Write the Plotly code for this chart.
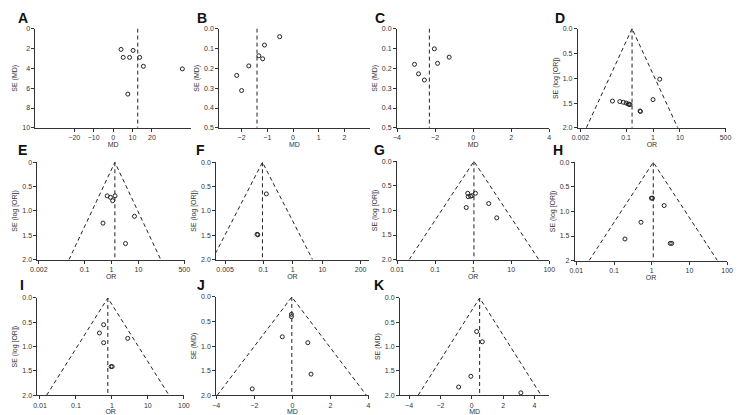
import math
import plotly.graph_objects as go

W, H = 738, 415

# ---------------- data ----------------
A_md = [4.1, 5.2, 8.5, 10.3, 13.7, 15.6, 35.7, 7.6]
A_se = [2.1, 2.9, 2.9, 2.2, 2.9, 3.8, 4.06, 6.6]
A_pool = 12.7

B_md = [-0.52, -1.11, -1.33, -1.18, -1.72, -2.19, -2.0]
B_se = [0.041, 0.083, 0.137, 0.152, 0.188, 0.236, 0.312]
B_pool = -1.40

C_md = [-2.04, -1.26, -3.08, -1.87, -2.87, -2.56]
C_se = [0.102, 0.144, 0.18, 0.175, 0.228, 0.259]
C_pool = -2.3

D_or = [0.031, 0.058, 0.079, 0.10, 0.12, 0.13, 0.14, 0.33, 0.34, 1.0, 1.78]
D_se = [1.46, 1.47, 1.485, 1.50, 1.52, 1.525, 1.53, 1.66, 1.67, 1.43, 1.02]
D_pool = 0.166

E_or = [0.69, 0.91, 1.10, 1.35, 7.1, 0.48, 3.3]
E_se = [0.69, 0.72, 0.79, 0.69, 1.11, 1.25, 1.67]
E_pool = 1.33

F_or = [0.126, 0.061, 0.065]
F_se = [0.65, 1.48, 1.49]
F_pool = 0.093

G_or = [0.72, 1.15, 0.74, 0.85, 0.93, 2.57, 0.66, 4.17]
G_se = [0.65, 0.65, 0.72, 0.71, 0.70, 0.86, 0.94, 1.15]
G_pool = 1.05

H_or = [0.98, 1.05, 2.14, 0.52, 0.195, 3.1, 3.4]
H_se = [0.73, 0.73, 0.88, 1.22, 1.56, 1.65, 1.65]
H_pool = 1.10

I_or = [0.59, 0.45, 0.59, 2.75, 0.95, 1.02]
I_se = [0.55, 0.72, 0.92, 0.83, 1.41, 1.41]
I_pool = 0.77

J_md = [-0.05, -0.05, -0.53, 0.81, 0.98, -2.11]
J_se = [0.354, 0.40, 0.81, 0.93, 1.57, 1.87]
J_pool = -0.03

K_md = [0.31, 0.67, -0.06, -0.84, 3.13]
K_se = [0.69, 0.90, 1.61, 1.83, 1.95]
K_pool = 0.5

# tick labels
A_xt = [-20, -10, 0, 10, 20]
A_xtt = ["\u221220", "\u221210", "0", "10", "20"]
A_yt = [0, 2, 4, 6, 8, 10]
BC_yt = [0.0, 0.1, 0.2, 0.3, 0.4, 0.5]
BC_ytt = ["0.0", "0.1", "0.2", "0.3", "0.4", "0.5"]
B_xt = [-2, -1, 0, 1, 2]
B_xtt = ["\u22122", "\u22121", "0", "1", "2"]
C_xt = [-4, -2, 0, 2, 4]
MD4_xtt = ["\u22124", "\u22122", "0", "2", "4"]
OR_yt = [0.0, 0.5, 1.0, 1.5, 2.0]
OR_ytt = ["0.0", "0.5", "1.0", "1.5", "2.0"]
DE_xt = [0.002, 0.1, 1, 10, 500]
DE_xtt = ["0.002", "0.1", "1", "10", "500"]
F_xt = [0.005, 0.1, 1, 10, 200]
F_xtt = ["0.005", "0.1", "1", "10", "200"]
GHI_xt = [0.01, 0.1, 1, 10, 100]
GHI_xtt = ["0.01", "0.1", "1", "10", "100"]
JK_xt = [-4, -2, 0, 2, 4]

FONT = "Liberation Sans, Arial, sans-serif"
INK = "#333"
fig = go.Figure()

panels = [
    ("A", A_md, A_se, A_pool, "linear", [-40, 40], [10, 0], A_xt, A_xtt,
     A_yt, [str(v) for v in A_yt], "MD", "SE (MD)", False, (29, 187, 25, 126), (9, 14)),
    ("B", B_md, B_se, B_pool, "linear", [-2.87, 2.97], [0.5, 0], B_xt, B_xtt,
     BC_yt, BC_ytt, "MD", "SE (MD)", False, (216, 369, 25, 126), (191, 14)),
    ("C", C_md, C_se, C_pool, "linear", [-4, 4], [0.5, 0], C_xt, MD4_xtt,
     BC_yt, BC_ytt, "MD", "SE (MD)", False, (397, 552, 25, 126), (373, 14)),
    ("D", D_or, D_se, D_pool, "log", [-2.8, 2.72], [2, 0], DE_xt, DE_xtt,
     OR_yt, OR_ytt, "OR", "SE (log [OR])", True, (581, 732, 25, 126), (556, 14)),
    ("E", E_or, E_se, E_pool, "log", [-2.75, 2.72], [2, 0], DE_xt, DE_xtt,
     OR_yt, ["0", "0.5", "1.0", "1.5", "2.0"], "OR", "SE (log [OR])", True, (31, 181, 161, 260), (9, 149)),
    ("F", F_or, F_se, F_pool, "log", [-2.6, 2.57], [2, 0], F_xt, F_xtt,
     OR_yt, OR_ytt, "OR", "SE (log [OR])", True, (213, 368, 161, 260), (190, 149)),
    ("G", G_or, G_se, G_pool, "log", [-2, 2], [2, 0], GHI_xt, GHI_xtt,
     OR_yt, OR_ytt, "OR", "SE (log [OR])", True, (397, 552, 160, 260), (372, 149)),
    ("H", H_or, H_se, H_pool, "log", [-2.04, 2], [2, 0], GHI_xt, GHI_xtt,
     OR_yt, ["0.0", "0.5", "1.0", "1.5", "2"], "OR", "SE (log [OR])", True, (578, 733, 161, 261), (554, 149)),
    ("I", I_or, I_se, I_pool, "log", [-2.07, 2], [2, 0], GHI_xt, GHI_xtt,
     OR_yt, OR_ytt, "OR", "SE (log [OR])", True, (31, 180, 299, 398), (11, 286)),
    ("J", J_md, J_se, J_pool, "linear", [-4, 4], [2, 0], JK_xt, MD4_xtt,
     OR_yt, OR_ytt, "MD", "SE (MD)", True, (213, 368, 298, 398), (191, 286)),
    ("K", K_md, K_se, K_pool, "linear", [-4.58, 4.94], [2, 0], JK_xt, MD4_xtt,
     OR_yt, OR_ytt, "MD", "SE (MD)", True, (400, 552, 299, 398), (372, 286)),
]

axis_common = dict(showline=True, linecolor=INK, linewidth=1, ticks="outside", ticklen=3,
                   tickwidth=1, tickcolor=INK, showgrid=False, zeroline=False,
                   tickfont=dict(size=7, color=INK, family=FONT))

annotations = []
for i, (letter, xs, ys, pool, xtype, xr, yr, xt, xtt, yt, ytt, xtitle, ytitle, funnel, dom, lpos) in enumerate(panels):
    n = i + 1
    xa = "x" if n == 1 else f"x{n}"
    ya = "y" if n == 1 else f"y{n}"
    x0, x1, y0, y1 = dom
    xkey = "xaxis" if n == 1 else f"xaxis{n}"
    ykey = "yaxis" if n == 1 else f"yaxis{n}"
    fig.layout[xkey] = dict(axis_common, type=xtype, range=xr, domain=[x0 / W, x1 / W], anchor=ya,
                            tickvals=xt, ticktext=xtt,
                            title=dict(text=xtitle, font=dict(size=7, color=INK, family=FONT), standoff=0))
    fig.layout[ykey] = dict(axis_common, range=yr, domain=[1 - y1 / H, 1 - y0 / H], anchor=xa,
                            tickvals=yt, ticktext=ytt,
                            title=dict(text=ytitle, font=dict(size=7, color=INK, family=FONT), standoff=3))
    ymax = max(yr)
    dash = dict(color="#222", width=1, dash="4px,3px")
    fig.add_trace(go.Scatter(x=[pool, pool], y=[0, ymax], mode="lines", xaxis=xa, yaxis=ya,
                             line=dash, showlegend=False, hoverinfo="skip"))
    if funnel:
        if xtype == "log":
            lo = math.exp(math.log(pool) - 1.96 * ymax)
            hi = math.exp(math.log(pool) + 1.96 * ymax)
        else:
            lo = pool - 1.96 * ymax
            hi = pool + 1.96 * ymax
        fig.add_trace(go.Scatter(x=[lo, pool, hi], y=[ymax, 0, ymax], mode="lines", xaxis=xa, yaxis=ya,
                                 line=dash, showlegend=False, hoverinfo="skip"))
    fig.add_trace(go.Scatter(x=xs, y=ys, mode="markers", xaxis=xa, yaxis=ya, showlegend=False,
                             marker=dict(symbol="circle-open", size=4, color="#222", line=dict(width=1, color="#222"))))
    annotations.append(dict(text=f"<b>{letter}</b>", x=lpos[0] / W, y=1 - lpos[1] / H, xref="paper", yref="paper",
                            xanchor="left", yanchor="middle", showarrow=False,
                            font=dict(size=14, color="#111", family=FONT)))

fig.update_layout(width=W, height=H, margin=dict(l=0, r=0, t=0, b=0), paper_bgcolor="white",
                  plot_bgcolor="white", annotations=annotations, font=dict(family=FONT))
fig.write_html("out.html")
